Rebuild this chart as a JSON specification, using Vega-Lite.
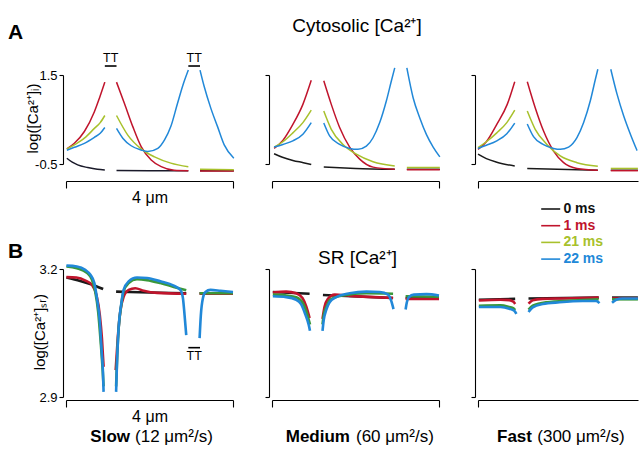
{
"$schema": "https://vega.github.io/schema/vega-lite/v6.json",
"padding": {"left": 8, "top": 16, "right": 0, "bottom": 0},
"config": {
  "font": "Liberation Sans",
  "view": {"stroke": null},
  "axis": {"grid": false, "domainColor": "#000", "tickColor": "#000", "labelColor": "#000", "titleColor": "#000", "labelFontSize": 13, "titleFontSize": 16, "titleFontWeight": "normal", "domainWidth": 1.1, "tickWidth": 1.1}
},
"datasets": {
"aSlow": [
{"t":"0 ms","s":1,"x":0.02,"y":-0.37},{"t":"0 ms","s":1,"x":0.15,"y":-0.46},{"t":"0 ms","s":1,"x":0.28,"y":-0.52},{"t":"0 ms","s":1,"x":0.52,"y":-0.58},{"t":"0 ms","s":1,"x":0.75,"y":-0.62},{"t":"0 ms","s":1,"x":0.93,"y":-0.635},
{"t":"0 ms","s":2,"x":1.21,"y":-0.645},{"t":"0 ms","s":2,"x":2.0,"y":-0.65},{"t":"0 ms","s":2,"x":2.93,"y":-0.65},
{"t":"0 ms","s":3,"x":3.21,"y":-0.65},{"t":"0 ms","s":3,"x":4.02,"y":-0.65},
{"t":"1 ms","s":1,"x":0.02,"y":-0.16},{"t":"1 ms","s":1,"x":0.2,"y":-0.035},{"t":"1 ms","s":1,"x":0.44,"y":0.23},{"t":"1 ms","s":1,"x":0.68,"y":0.675},{"t":"1 ms","s":1,"x":0.8,"y":0.98},{"t":"1 ms","s":1,"x":0.93,"y":1.34},
{"t":"1 ms","s":2,"x":1.21,"y":1.34},{"t":"1 ms","s":2,"x":1.4,"y":0.86},{"t":"1 ms","s":2,"x":1.6,"y":0.34},{"t":"1 ms","s":2,"x":1.8,"y":-0.11},{"t":"1 ms","s":2,"x":2.04,"y":-0.41},{"t":"1 ms","s":2,"x":2.28,"y":-0.56},{"t":"1 ms","s":2,"x":2.59,"y":-0.64},{"t":"1 ms","s":2,"x":2.93,"y":-0.65},
{"t":"1 ms","s":3,"x":3.21,"y":-0.66},{"t":"1 ms","s":3,"x":4.02,"y":-0.66},
{"t":"21 ms","s":1,"x":0.02,"y":-0.16},{"t":"21 ms","s":1,"x":0.2,"y":-0.07},{"t":"21 ms","s":1,"x":0.44,"y":0.08},{"t":"21 ms","s":1,"x":0.68,"y":0.3},{"t":"21 ms","s":1,"x":0.82,"y":0.43},{"t":"21 ms","s":1,"x":0.93,"y":0.59},
{"t":"21 ms","s":2,"x":1.21,"y":0.59},{"t":"21 ms","s":2,"x":1.48,"y":0.15},{"t":"21 ms","s":2,"x":1.8,"y":-0.16},{"t":"21 ms","s":2,"x":2.12,"y":-0.34},{"t":"21 ms","s":2,"x":2.51,"y":-0.48},{"t":"21 ms","s":2,"x":2.93,"y":-0.56},
{"t":"21 ms","s":3,"x":3.21,"y":-0.62},{"t":"21 ms","s":3,"x":4.02,"y":-0.63},
{"t":"22 ms","s":1,"x":0.02,"y":-0.19},{"t":"22 ms","s":1,"x":0.2,"y":-0.125},{"t":"22 ms","s":1,"x":0.44,"y":-0.035},{"t":"22 ms","s":1,"x":0.68,"y":0.1},{"t":"22 ms","s":1,"x":0.82,"y":0.19},{"t":"22 ms","s":1,"x":0.93,"y":0.32},
{"t":"22 ms","s":2,"x":1.21,"y":0.3},{"t":"22 ms","s":2,"x":1.36,"y":0.08},{"t":"22 ms","s":2,"x":1.56,"y":-0.09},{"t":"22 ms","s":2,"x":1.8,"y":-0.185},{"t":"22 ms","s":2,"x":1.96,"y":-0.22},{"t":"22 ms","s":2,"x":2.2,"y":-0.15},{"t":"22 ms","s":2,"x":2.36,"y":0.04},{"t":"22 ms","s":2,"x":2.51,"y":0.34},{"t":"22 ms","s":2,"x":2.67,"y":0.86},{"t":"22 ms","s":2,"x":2.8,"y":1.27},{"t":"22 ms","s":2,"x":2.93,"y":1.61},
{"t":"22 ms","s":3,"x":3.21,"y":1.61},{"t":"22 ms","s":3,"x":3.31,"y":1.24},{"t":"22 ms","s":3,"x":3.47,"y":0.75},{"t":"22 ms","s":3,"x":3.63,"y":0.34},{"t":"22 ms","s":3,"x":3.79,"y":-0.07},{"t":"22 ms","s":3,"x":4.02,"y":-0.37}
],
"aMed": [
{"t":"0 ms","s":1,"x":0.05,"y":-0.27},{"t":"0 ms","s":1,"x":0.25,"y":-0.35},{"t":"0 ms","s":1,"x":0.5,"y":-0.42},{"t":"0 ms","s":1,"x":0.75,"y":-0.47},{"t":"0 ms","s":1,"x":0.94,"y":-0.51},
{"t":"0 ms","s":2,"x":1.24,"y":-0.57},{"t":"0 ms","s":2,"x":2.0,"y":-0.6},{"t":"0 ms","s":2,"x":2.94,"y":-0.62},
{"t":"0 ms","s":3,"x":3.23,"y":-0.62},{"t":"0 ms","s":3,"x":4.02,"y":-0.62},
{"t":"1 ms","s":1,"x":0.05,"y":-0.15},{"t":"1 ms","s":1,"x":0.26,"y":0.03},{"t":"1 ms","s":1,"x":0.5,"y":0.39},{"t":"1 ms","s":1,"x":0.74,"y":0.84},{"t":"1 ms","s":1,"x":0.94,"y":1.38},
{"t":"1 ms","s":2,"x":1.24,"y":1.37},{"t":"1 ms","s":2,"x":1.42,"y":0.84},{"t":"1 ms","s":2,"x":1.62,"y":0.32},{"t":"1 ms","s":2,"x":1.86,"y":-0.12},{"t":"1 ms","s":2,"x":2.1,"y":-0.39},{"t":"1 ms","s":2,"x":2.42,"y":-0.57},{"t":"1 ms","s":2,"x":2.94,"y":-0.62},
{"t":"1 ms","s":3,"x":3.23,"y":-0.63},{"t":"1 ms","s":3,"x":4.02,"y":-0.63},
{"t":"21 ms","s":1,"x":0.05,"y":-0.12},{"t":"21 ms","s":1,"x":0.26,"y":0.0},{"t":"21 ms","s":1,"x":0.5,"y":0.2},{"t":"21 ms","s":1,"x":0.74,"y":0.43},{"t":"21 ms","s":1,"x":0.94,"y":0.71},
{"t":"21 ms","s":2,"x":1.24,"y":0.69},{"t":"21 ms","s":2,"x":1.42,"y":0.28},{"t":"21 ms","s":2,"x":1.7,"y":-0.06},{"t":"21 ms","s":2,"x":2.02,"y":-0.28},{"t":"21 ms","s":2,"x":2.42,"y":-0.45},{"t":"21 ms","s":2,"x":2.94,"y":-0.545},
{"t":"21 ms","s":3,"x":3.23,"y":-0.58},{"t":"21 ms","s":3,"x":4.02,"y":-0.58},
{"t":"22 ms","s":1,"x":0.05,"y":-0.12},{"t":"22 ms","s":1,"x":0.26,"y":-0.06},{"t":"22 ms","s":1,"x":0.5,"y":0.02},{"t":"22 ms","s":1,"x":0.74,"y":0.17},{"t":"22 ms","s":1,"x":0.94,"y":0.43},
{"t":"22 ms","s":2,"x":1.24,"y":0.42},{"t":"22 ms","s":2,"x":1.38,"y":0.13},{"t":"22 ms","s":2,"x":1.62,"y":-0.06},{"t":"22 ms","s":2,"x":1.86,"y":-0.15},{"t":"22 ms","s":2,"x":2.06,"y":-0.17},{"t":"22 ms","s":2,"x":2.26,"y":-0.1},{"t":"22 ms","s":2,"x":2.42,"y":0.09},{"t":"22 ms","s":2,"x":2.58,"y":0.43},{"t":"22 ms","s":2,"x":2.74,"y":0.92},{"t":"22 ms","s":2,"x":2.86,"y":1.37},{"t":"22 ms","s":2,"x":2.94,"y":1.66},
{"t":"22 ms","s":3,"x":3.23,"y":1.66},{"t":"22 ms","s":3,"x":3.38,"y":0.99},{"t":"22 ms","s":3,"x":3.54,"y":0.535},{"t":"22 ms","s":3,"x":3.7,"y":0.16},{"t":"22 ms","s":3,"x":3.86,"y":-0.12},{"t":"22 ms","s":3,"x":4.02,"y":-0.34}
],
"aFast": [
{"t":"0 ms","s":1,"x":0.0,"y":-0.28},{"t":"0 ms","s":1,"x":0.2,"y":-0.38},{"t":"0 ms","s":1,"x":0.45,"y":-0.46},{"t":"0 ms","s":1,"x":0.88,"y":-0.545},
{"t":"0 ms","s":2,"x":1.18,"y":-0.6},{"t":"0 ms","s":2,"x":2.87,"y":-0.64},
{"t":"0 ms","s":3,"x":3.18,"y":-0.64},{"t":"0 ms","s":3,"x":3.83,"y":-0.64},
{"t":"1 ms","s":1,"x":0.0,"y":-0.17},{"t":"1 ms","s":1,"x":0.2,"y":0.0},{"t":"1 ms","s":1,"x":0.45,"y":0.39},{"t":"1 ms","s":1,"x":0.7,"y":0.84},{"t":"1 ms","s":1,"x":0.88,"y":1.35},
{"t":"1 ms","s":2,"x":1.18,"y":1.35},{"t":"1 ms","s":2,"x":1.37,"y":0.765},{"t":"1 ms","s":2,"x":1.57,"y":0.24},{"t":"1 ms","s":2,"x":1.81,"y":-0.21},{"t":"1 ms","s":2,"x":2.05,"y":-0.47},{"t":"1 ms","s":2,"x":2.37,"y":-0.6},{"t":"1 ms","s":2,"x":2.87,"y":-0.64},
{"t":"1 ms","s":3,"x":3.18,"y":-0.65},{"t":"1 ms","s":3,"x":3.83,"y":-0.65},
{"t":"21 ms","s":1,"x":0.0,"y":-0.13},{"t":"21 ms","s":1,"x":0.2,"y":0.0},{"t":"21 ms","s":1,"x":0.45,"y":0.2},{"t":"21 ms","s":1,"x":0.69,"y":0.43},{"t":"21 ms","s":1,"x":0.88,"y":0.71},
{"t":"21 ms","s":2,"x":1.18,"y":0.69},{"t":"21 ms","s":2,"x":1.37,"y":0.28},{"t":"21 ms","s":2,"x":1.65,"y":-0.06},{"t":"21 ms","s":2,"x":1.97,"y":-0.32},{"t":"21 ms","s":2,"x":2.37,"y":-0.47},{"t":"21 ms","s":2,"x":2.87,"y":-0.55},
{"t":"21 ms","s":3,"x":3.18,"y":-0.6},{"t":"21 ms","s":3,"x":3.83,"y":-0.6},
{"t":"22 ms","s":1,"x":0.0,"y":-0.15},{"t":"22 ms","s":1,"x":0.2,"y":-0.08},{"t":"22 ms","s":1,"x":0.45,"y":0.02},{"t":"22 ms","s":1,"x":0.69,"y":0.18},{"t":"22 ms","s":1,"x":0.88,"y":0.42},
{"t":"22 ms","s":2,"x":1.18,"y":0.4},{"t":"22 ms","s":2,"x":1.33,"y":0.115},{"t":"22 ms","s":2,"x":1.57,"y":-0.065},{"t":"22 ms","s":2,"x":1.81,"y":-0.15},{"t":"22 ms","s":2,"x":1.97,"y":-0.17},{"t":"22 ms","s":2,"x":2.17,"y":-0.12},{"t":"22 ms","s":2,"x":2.37,"y":0.09},{"t":"22 ms","s":2,"x":2.53,"y":0.43},{"t":"22 ms","s":2,"x":2.69,"y":0.92},{"t":"22 ms","s":2,"x":2.81,"y":1.4},{"t":"22 ms","s":2,"x":2.87,"y":1.63},
{"t":"22 ms","s":3,"x":3.18,"y":1.63},{"t":"22 ms","s":3,"x":3.33,"y":1.07},{"t":"22 ms","s":3,"x":3.49,"y":0.58},{"t":"22 ms","s":3,"x":3.65,"y":0.17},{"t":"22 ms","s":3,"x":3.81,"y":-0.2}
],
"bSlow": [
{"t":"0 ms","s":1,"x":0.01,"y":3.18},{"t":"0 ms","s":1,"x":0.34,"y":3.172},{"t":"0 ms","s":1,"x":0.58,"y":3.165},{"t":"0 ms","s":1,"x":0.89,"y":3.153},
{"t":"0 ms","s":2,"x":1.2,"y":3.147},{"t":"0 ms","s":2,"x":2.0,"y":3.145},{"t":"0 ms","s":2,"x":2.88,"y":3.143},
{"t":"0 ms","s":3,"x":3.2,"y":3.143},{"t":"0 ms","s":3,"x":4.0,"y":3.143},
{"t":"1 ms","s":1,"x":0.01,"y":3.181},{"t":"1 ms","s":1,"x":0.25,"y":3.18},{"t":"1 ms","s":1,"x":0.48,"y":3.172},{"t":"1 ms","s":1,"x":0.62,"y":3.163},{"t":"1 ms","s":1,"x":0.73,"y":3.139},{"t":"1 ms","s":1,"x":0.81,"y":3.092},{"t":"1 ms","s":1,"x":0.86,"y":3.038},{"t":"1 ms","s":1,"x":0.9,"y":2.971},
{"t":"1 ms","s":2,"x":1.19,"y":2.963},{"t":"1 ms","s":2,"x":1.24,"y":3.038},{"t":"1 ms","s":2,"x":1.3,"y":3.1},{"t":"1 ms","s":2,"x":1.38,"y":3.135},{"t":"1 ms","s":2,"x":1.5,"y":3.151},{"t":"1 ms","s":2,"x":1.66,"y":3.155},{"t":"1 ms","s":2,"x":1.86,"y":3.149},{"t":"1 ms","s":2,"x":2.18,"y":3.144},{"t":"1 ms","s":2,"x":2.88,"y":3.142},
{"t":"1 ms","s":3,"x":3.2,"y":3.142},{"t":"1 ms","s":3,"x":4.0,"y":3.142},
{"t":"21 ms","s":1,"x":0.01,"y":3.206},{"t":"21 ms","s":1,"x":0.26,"y":3.202},{"t":"21 ms","s":1,"x":0.5,"y":3.191},{"t":"21 ms","s":1,"x":0.62,"y":3.175},{"t":"21 ms","s":1,"x":0.7,"y":3.147},{"t":"21 ms","s":1,"x":0.77,"y":3.1},{"t":"21 ms","s":1,"x":0.83,"y":3.03},{"t":"21 ms","s":1,"x":0.88,"y":2.96},{"t":"21 ms","s":1,"x":0.9,"y":2.925},
{"t":"21 ms","s":2,"x":1.2,"y":2.925},{"t":"21 ms","s":2,"x":1.22,"y":2.98},{"t":"21 ms","s":2,"x":1.26,"y":3.06},{"t":"21 ms","s":2,"x":1.32,"y":3.113},{"t":"21 ms","s":2,"x":1.38,"y":3.148},{"t":"21 ms","s":2,"x":1.5,"y":3.167},{"t":"21 ms","s":2,"x":1.7,"y":3.176},{"t":"21 ms","s":2,"x":1.94,"y":3.174},{"t":"21 ms","s":2,"x":2.26,"y":3.167},{"t":"21 ms","s":2,"x":2.58,"y":3.158},{"t":"21 ms","s":2,"x":2.88,"y":3.15},
{"t":"21 ms","s":3,"x":3.2,"y":3.143},{"t":"21 ms","s":3,"x":4.0,"y":3.143},
{"t":"22 ms","s":1,"x":0.01,"y":3.208},{"t":"22 ms","s":1,"x":0.26,"y":3.206},{"t":"22 ms","s":1,"x":0.46,"y":3.198},{"t":"22 ms","s":1,"x":0.58,"y":3.187},{"t":"22 ms","s":1,"x":0.68,"y":3.167},{"t":"22 ms","s":1,"x":0.74,"y":3.132},{"t":"22 ms","s":1,"x":0.81,"y":3.077},{"t":"22 ms","s":1,"x":0.85,"y":3.014},{"t":"22 ms","s":1,"x":0.885,"y":2.959},{"t":"22 ms","s":1,"x":0.9,"y":2.912},
{"t":"22 ms","s":2,"x":1.2,"y":2.912},{"t":"22 ms","s":2,"x":1.22,"y":2.975},{"t":"22 ms","s":2,"x":1.26,"y":3.061},{"t":"22 ms","s":2,"x":1.32,"y":3.116},{"t":"22 ms","s":2,"x":1.38,"y":3.151},{"t":"22 ms","s":2,"x":1.5,"y":3.171},{"t":"22 ms","s":2,"x":1.7,"y":3.18},{"t":"22 ms","s":2,"x":1.94,"y":3.179},{"t":"22 ms","s":2,"x":2.26,"y":3.171},{"t":"22 ms","s":2,"x":2.58,"y":3.161},{"t":"22 ms","s":2,"x":2.74,"y":3.151},{"t":"22 ms","s":2,"x":2.8,"y":3.132},{"t":"22 ms","s":2,"x":2.84,"y":3.092},{"t":"22 ms","s":2,"x":2.88,"y":3.045},
{"t":"22 ms","s":3,"x":3.2,"y":3.038},{"t":"22 ms","s":3,"x":3.23,"y":3.092},{"t":"22 ms","s":3,"x":3.28,"y":3.132},{"t":"22 ms","s":3,"x":3.34,"y":3.146},{"t":"22 ms","s":3,"x":3.46,"y":3.151},{"t":"22 ms","s":3,"x":3.7,"y":3.149},{"t":"22 ms","s":3,"x":4.0,"y":3.146}
],
"bMed": [
{"t":"0 ms","s":1,"x":0.02,"y":3.146},{"t":"0 ms","s":1,"x":0.9,"y":3.142},
{"t":"0 ms","s":2,"x":1.22,"y":3.139},{"t":"0 ms","s":2,"x":2.9,"y":3.132},
{"t":"0 ms","s":3,"x":3.2,"y":3.132},{"t":"0 ms","s":3,"x":4.0,"y":3.132},
{"t":"1 ms","s":1,"x":0.02,"y":3.145},{"t":"1 ms","s":1,"x":0.34,"y":3.147},{"t":"1 ms","s":1,"x":0.58,"y":3.143},{"t":"1 ms","s":1,"x":0.73,"y":3.132},{"t":"1 ms","s":1,"x":0.82,"y":3.112},{"t":"1 ms","s":1,"x":0.9,"y":3.085},
{"t":"1 ms","s":2,"x":1.21,"y":3.083},{"t":"1 ms","s":2,"x":1.26,"y":3.112},{"t":"1 ms","s":2,"x":1.34,"y":3.13},{"t":"1 ms","s":2,"x":1.5,"y":3.14},{"t":"1 ms","s":2,"x":1.86,"y":3.137},{"t":"1 ms","s":2,"x":2.9,"y":3.132},
{"t":"1 ms","s":3,"x":3.2,"y":3.13},{"t":"1 ms","s":3,"x":4.0,"y":3.13},
{"t":"21 ms","s":1,"x":0.02,"y":3.14},{"t":"21 ms","s":1,"x":0.34,"y":3.138},{"t":"21 ms","s":1,"x":0.58,"y":3.134},{"t":"21 ms","s":1,"x":0.74,"y":3.12},{"t":"21 ms","s":1,"x":0.84,"y":3.095},{"t":"21 ms","s":1,"x":0.91,"y":3.07},
{"t":"21 ms","s":2,"x":1.21,"y":3.07},{"t":"21 ms","s":2,"x":1.24,"y":3.093},{"t":"21 ms","s":2,"x":1.32,"y":3.115},{"t":"21 ms","s":2,"x":1.38,"y":3.127},{"t":"21 ms","s":2,"x":1.7,"y":3.138},{"t":"21 ms","s":2,"x":2.26,"y":3.143},{"t":"21 ms","s":2,"x":2.9,"y":3.142},
{"t":"21 ms","s":3,"x":3.2,"y":3.136},{"t":"21 ms","s":3,"x":4.0,"y":3.135},
{"t":"22 ms","s":1,"x":0.02,"y":3.136},{"t":"22 ms","s":1,"x":0.34,"y":3.134},{"t":"22 ms","s":1,"x":0.58,"y":3.128},{"t":"22 ms","s":1,"x":0.7,"y":3.117},{"t":"22 ms","s":1,"x":0.8,"y":3.093},{"t":"22 ms","s":1,"x":0.88,"y":3.069},{"t":"22 ms","s":1,"x":0.91,"y":3.055},
{"t":"22 ms","s":2,"x":1.21,"y":3.055},{"t":"22 ms","s":2,"x":1.24,"y":3.081},{"t":"22 ms","s":2,"x":1.3,"y":3.104},{"t":"22 ms","s":2,"x":1.38,"y":3.122},{"t":"22 ms","s":2,"x":1.54,"y":3.134},{"t":"22 ms","s":2,"x":1.86,"y":3.143},{"t":"22 ms","s":2,"x":2.26,"y":3.147},{"t":"22 ms","s":2,"x":2.58,"y":3.146},{"t":"22 ms","s":2,"x":2.78,"y":3.14},{"t":"22 ms","s":2,"x":2.86,"y":3.124},{"t":"22 ms","s":2,"x":2.91,"y":3.106},
{"t":"22 ms","s":3,"x":3.2,"y":3.105},{"t":"22 ms","s":3,"x":3.23,"y":3.122},{"t":"22 ms","s":3,"x":3.28,"y":3.134},{"t":"22 ms","s":3,"x":3.4,"y":3.14},{"t":"22 ms","s":3,"x":3.7,"y":3.141},{"t":"22 ms","s":3,"x":4.0,"y":3.138}
],
"bFast": [
{"t":"0 ms","s":1,"x":0.02,"y":3.128},{"t":"0 ms","s":1,"x":0.89,"y":3.13},
{"t":"0 ms","s":2,"x":1.21,"y":3.131},{"t":"0 ms","s":2,"x":2.89,"y":3.133},
{"t":"0 ms","s":3,"x":3.21,"y":3.133},{"t":"0 ms","s":3,"x":3.83,"y":3.133},
{"t":"1 ms","s":1,"x":0.02,"y":3.126},{"t":"1 ms","s":1,"x":0.54,"y":3.128},{"t":"1 ms","s":1,"x":0.75,"y":3.127},{"t":"1 ms","s":1,"x":0.85,"y":3.123},{"t":"1 ms","s":1,"x":0.89,"y":3.118},
{"t":"1 ms","s":2,"x":1.21,"y":3.119},{"t":"1 ms","s":2,"x":1.31,"y":3.127},{"t":"1 ms","s":2,"x":1.55,"y":3.13},{"t":"1 ms","s":2,"x":2.0,"y":3.131},{"t":"1 ms","s":2,"x":2.89,"y":3.133},
{"t":"1 ms","s":3,"x":3.21,"y":3.131},{"t":"1 ms","s":3,"x":3.83,"y":3.131},
{"t":"21 ms","s":1,"x":0.02,"y":3.114},{"t":"21 ms","s":1,"x":0.54,"y":3.115},{"t":"21 ms","s":1,"x":0.75,"y":3.111},{"t":"21 ms","s":1,"x":0.85,"y":3.108},{"t":"21 ms","s":1,"x":0.89,"y":3.104},
{"t":"21 ms","s":2,"x":1.21,"y":3.105},{"t":"21 ms","s":2,"x":1.31,"y":3.114},{"t":"21 ms","s":2,"x":1.63,"y":3.122},{"t":"21 ms","s":2,"x":2.27,"y":3.126},{"t":"21 ms","s":2,"x":2.89,"y":3.129},
{"t":"21 ms","s":3,"x":3.21,"y":3.129},{"t":"21 ms","s":3,"x":3.83,"y":3.129},
{"t":"22 ms","s":1,"x":0.02,"y":3.111},{"t":"22 ms","s":1,"x":0.54,"y":3.111},{"t":"22 ms","s":1,"x":0.75,"y":3.107},{"t":"22 ms","s":1,"x":0.87,"y":3.102},{"t":"22 ms","s":1,"x":0.92,"y":3.095},
{"t":"22 ms","s":2,"x":1.21,"y":3.099},{"t":"22 ms","s":2,"x":1.31,"y":3.11},{"t":"22 ms","s":2,"x":1.55,"y":3.118},{"t":"22 ms","s":2,"x":1.95,"y":3.122},{"t":"22 ms","s":2,"x":2.51,"y":3.125},{"t":"22 ms","s":2,"x":2.83,"y":3.125},{"t":"22 ms","s":2,"x":2.91,"y":3.12},
{"t":"22 ms","s":3,"x":3.21,"y":3.121},{"t":"22 ms","s":3,"x":3.31,"y":3.128},{"t":"22 ms","s":3,"x":3.46,"y":3.131},{"t":"22 ms","s":3,"x":3.83,"y":3.131}
]
},
"columns": 3,
"bounds": "flush",
"spacing": {"row": 105, "column": 39},
"resolve": {"scale": {"color": "independent", "x": "independent", "y": "independent"}},
"concat": [
{
 "width": 167, "height": 89,
 "layer": [
  {"data": {"name": "aSlow"}, "mark": {"type": "line", "strokeWidth": 1.5, "interpolate": "monotone"},
   "encoding": {
    "x": {"field": "x", "type": "quantitative", "scale": {"domain": [0, 4], "nice": false, "zero": false}, "axis": {"values": [0, 4], "labels": false, "tickSize": 7, "offset": 17, "title": "4 μm", "titlePadding": 1}},
    "y": {"field": "y", "type": "quantitative", "scale": {"domain": [-0.5, 1.5], "nice": false, "zero": false}, "axis": {"values": [-0.5, 1.5], "tickSize": 4, "offset": 3, "labelPadding": 2, "title": null, "labelExpr": "datum.value > 0 ? '1.5' : '-0.5'"}},
    "color": {"field": "t", "type": "nominal", "scale": {"domain": ["0 ms", "1 ms", "21 ms", "22 ms"], "range": ["#1a1a2a", "#c0142c", "#a8c12c", "#2188d8"]}, "legend": null},
    "detail": {"field": "s"}
   }},
  {"data": {"values": [{}]}, "mark": {"type": "text", "text": "A", "fontSize": 21, "fontWeight": "bold", "align": "left", "baseline": "middle", "color": "#000"}, "encoding": {"x": {"datum": -1.389}, "y": {"datum": 2.455}}},
  {"data": {"values": [{}]}, "mark": {"type": "text", "text": "log([Ca²⁺]ᵢ)", "fontSize": 15, "angle": 270, "align": "center", "baseline": "middle", "color": "#000"}, "encoding": {"x": {"datum": -0.79}, "y": {"datum": 0.522}}},
  {"data": {"values": [{}]}, "mark": {"type": "text", "text": "TT", "fontSize": 12.5, "align": "center", "baseline": "middle", "color": "#000"}, "encoding": {"x": {"datum": 1.07}, "y": {"datum": 1.893}}},
  {"data": {"values": [{}]}, "mark": {"type": "text", "text": "TT", "fontSize": 12.5, "align": "center", "baseline": "middle", "color": "#000"}, "encoding": {"x": {"datum": 3.07}, "y": {"datum": 1.893}}},
  {"data": {"values": [{}]}, "mark": {"type": "rule", "strokeWidth": 1.6, "color": "#000"}, "encoding": {"x": {"datum": 0.93}, "x2": {"datum": 1.21}, "y": {"datum": 1.702}}},
  {"data": {"values": [{}]}, "mark": {"type": "rule", "strokeWidth": 1.6, "color": "#000"}, "encoding": {"x": {"datum": 2.93}, "x2": {"datum": 3.21}, "y": {"datum": 1.702}}}
 ]
},
{
 "width": 167, "height": 89,
 "layer": [
  {"data": {"name": "aMed"}, "mark": {"type": "line", "strokeWidth": 1.5, "interpolate": "monotone"},
   "encoding": {
    "x": {"field": "x", "type": "quantitative", "scale": {"domain": [0, 4], "nice": false, "zero": false}, "axis": {"values": [0, 4], "labels": false, "tickSize": 7, "offset": 17, "title": null}},
    "y": {"field": "y", "type": "quantitative", "scale": {"domain": [-0.5, 1.5], "nice": false, "zero": false}, "axis": {"values": [-0.5, 1.5], "labels": false, "tickSize": 4, "offset": 3, "title": null}},
    "color": {"field": "t", "type": "nominal", "scale": {"domain": ["0 ms", "1 ms", "21 ms", "22 ms"], "range": ["#1a1a1a", "#c0142c", "#a8c12c", "#2188d8"]}, "legend": null},
    "detail": {"field": "s"}
   }},
  {"data": {"values": [{}]}, "mark": {"type": "text", "text": "Cytosolic [Ca²⁺]", "fontSize": 19, "align": "center", "baseline": "middle", "color": "#000"}, "encoding": {"x": {"datum": 2.036}, "y": {"datum": 2.612}}}
 ]
},
{
 "width": 160, "height": 89,
 "layer": [
  {"data": {"name": "aFast"}, "mark": {"type": "line", "strokeWidth": 1.5, "interpolate": "monotone"},
   "encoding": {
    "x": {"field": "x", "type": "quantitative", "scale": {"domain": [0, 3.832], "nice": false, "zero": false}, "axis": {"values": [0], "labels": false, "tickSize": 7, "offset": 17, "title": null}},
    "y": {"field": "y", "type": "quantitative", "scale": {"domain": [-0.5, 1.5], "nice": false, "zero": false}, "axis": {"values": [-0.5, 1.5], "labels": false, "tickSize": 4, "offset": 3, "title": null}},
    "color": {"field": "t", "type": "nominal", "scale": {"domain": ["0 ms", "1 ms", "21 ms", "22 ms"], "range": ["#1a1a1a", "#c0142c", "#a8c12c", "#2188d8"]},
      "legend": {"orient": "none", "legendX": 65.7, "legendY": 127, "title": null, "labelFontSize": 14, "labelFontWeight": "bold", "labelColor": {"expr": "datum.label == '0 ms' ? '#111111' : datum.label == '1 ms' ? '#c0142c' : datum.label == '21 ms' ? '#a8c12c' : '#2188d8'"}, "symbolType": "M-1.9,0H1.9", "symbolSize": 100, "symbolStrokeWidth": 1.6, "labelOffset": 5.7, "rowPadding": 2.7, "padding": 0}},
    "detail": {"field": "s"}
   }}
 ]
},
{
 "width": 167, "height": 128,
 "layer": [
  {"data": {"name": "bSlow"}, "mark": {"type": "line", "strokeWidth": 2.6, "interpolate": "monotone"},
   "encoding": {
    "x": {"field": "x", "type": "quantitative", "scale": {"domain": [0, 4], "nice": false, "zero": false}, "axis": {"values": [0, 4], "labels": false, "tickSize": 7, "offset": 3, "title": "4 μm", "titlePadding": 1}},
    "y": {"field": "y", "type": "quantitative", "scale": {"domain": [2.9, 3.2], "nice": false, "zero": false}, "axis": {"values": [2.9, 3.2], "tickSize": 4, "offset": 3, "labelPadding": 2, "title": null, "format": ".1f"}},
    "color": {"field": "t", "type": "nominal", "scale": {"domain": ["0 ms", "1 ms", "21 ms", "22 ms"], "range": ["#1a1a1a", "#c0142c", "#3a983a", "#2188d8"]}, "legend": null},
    "detail": {"field": "s"}
   }},
  {"data": {"values": [{}]}, "mark": {"type": "text", "text": "B", "fontSize": 21, "fontWeight": "bold", "align": "left", "baseline": "middle", "color": "#000"}, "encoding": {"x": {"datum": -1.389}, "y": {"datum": 3.241}}},
  {"data": {"values": [{}]}, "mark": {"type": "text", "text": "log([Ca²⁺]ₛᵣ)", "fontSize": 15, "angle": 270, "align": "center", "baseline": "middle", "color": "#000"}, "encoding": {"x": {"datum": -0.623}, "y": {"datum": 3.052}}},
  {"data": {"values": [{}]}, "mark": {"type": "text", "text": "TT", "fontSize": 12.5, "align": "center", "baseline": "middle", "color": "#000"}, "encoding": {"x": {"datum": 3.07}, "y": {"datum": 2.996}}},
  {"data": {"values": [{}]}, "mark": {"type": "rule", "strokeWidth": 1.6, "color": "#000"}, "encoding": {"x": {"datum": 2.93}, "x2": {"datum": 3.21}, "y": {"datum": 3.0156}}},
  {"data": {"values": [{}]}, "mark": {"type": "text", "text": "Slow", "fontSize": 17, "fontWeight": "bold", "align": "right", "baseline": "middle", "color": "#000"}, "encoding": {"x": {"datum": 1.533}, "y": {"datum": 2.806}}},
  {"data": {"values": [{}]}, "mark": {"type": "text", "text": "(12 μm²/s)", "fontSize": 17, "align": "left", "baseline": "middle", "color": "#000"}, "encoding": {"x": {"datum": 1.653}, "y": {"datum": 2.806}}}
 ]
},
{
 "width": 167, "height": 128,
 "layer": [
  {"data": {"name": "bMed"}, "mark": {"type": "line", "strokeWidth": 2.6, "interpolate": "monotone"},
   "encoding": {
    "x": {"field": "x", "type": "quantitative", "scale": {"domain": [0, 4], "nice": false, "zero": false}, "axis": {"values": [0, 4], "labels": false, "tickSize": 7, "offset": 3, "title": null}},
    "y": {"field": "y", "type": "quantitative", "scale": {"domain": [2.9, 3.2], "nice": false, "zero": false}, "axis": {"values": [2.9, 3.2], "labels": false, "tickSize": 4, "offset": 3, "title": null}},
    "color": {"field": "t", "type": "nominal", "scale": {"domain": ["0 ms", "1 ms", "21 ms", "22 ms"], "range": ["#1a1a1a", "#c0142c", "#3a983a", "#2188d8"]}, "legend": null},
    "detail": {"field": "s"}
   }},
  {"data": {"values": [{}]}, "mark": {"type": "text", "text": "SR [Ca²⁺]", "fontSize": 19, "align": "center", "baseline": "middle", "color": "#000"}, "encoding": {"x": {"datum": 2.048}, "y": {"datum": 3.226}}},
  {"data": {"values": [{}]}, "mark": {"type": "text", "text": "Medium", "fontSize": 17, "fontWeight": "bold", "align": "right", "baseline": "middle", "color": "#000"}, "encoding": {"x": {"datum": 1.868}, "y": {"datum": 2.806}}},
  {"data": {"values": [{}]}, "mark": {"type": "text", "text": "(60 μm²/s)", "fontSize": 17, "align": "left", "baseline": "middle", "color": "#000"}, "encoding": {"x": {"datum": 2.012}, "y": {"datum": 2.806}}}
 ]
},
{
 "width": 160, "height": 128,
 "layer": [
  {"data": {"name": "bFast"}, "mark": {"type": "line", "strokeWidth": 2.6, "interpolate": "monotone"},
   "encoding": {
    "x": {"field": "x", "type": "quantitative", "scale": {"domain": [0, 3.832], "nice": false, "zero": false}, "axis": {"values": [0], "labels": false, "tickSize": 7, "offset": 3, "title": null}},
    "y": {"field": "y", "type": "quantitative", "scale": {"domain": [2.9, 3.2], "nice": false, "zero": false}, "axis": {"values": [2.9, 3.2], "labels": false, "tickSize": 4, "offset": 3, "title": null}},
    "color": {"field": "t", "type": "nominal", "scale": {"domain": ["0 ms", "1 ms", "21 ms", "22 ms"], "range": ["#1a1a1a", "#c0142c", "#3a983a", "#2188d8"]}, "legend": null},
    "detail": {"field": "s"}
   }},
  {"data": {"values": [{}]}, "mark": {"type": "text", "text": "Fast", "fontSize": 17, "fontWeight": "bold", "align": "right", "baseline": "middle", "color": "#000"}, "encoding": {"x": {"datum": 1.293}, "y": {"datum": 2.806}}},
  {"data": {"values": [{}]}, "mark": {"type": "text", "text": "(300 μm²/s)", "fontSize": 17, "align": "left", "baseline": "middle", "color": "#000"}, "encoding": {"x": {"datum": 1.42}, "y": {"datum": 2.806}}}
 ]
}
]
}
